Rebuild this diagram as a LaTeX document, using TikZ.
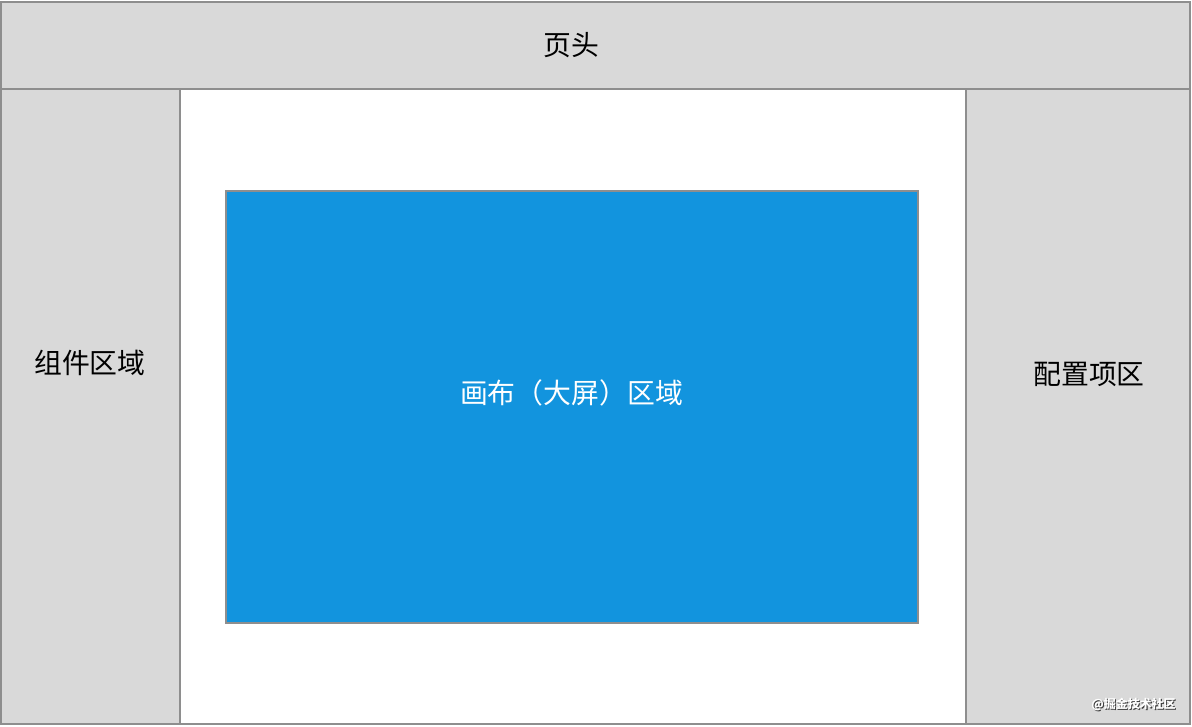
\documentclass[tikz,border=0pt]{standalone}
\usepackage{fontspec}
\setmainfont{Noto Sans CJK SC}
\usetikzlibrary{positioning}
\definecolor{panelgray}{HTML}{D9D9D9}
\definecolor{linegray}{HTML}{8E8E8E}
\definecolor{canvasblue}{HTML}{1294DE}
\tikzset{
  x=0.025cm, y=-0.025cm,
  panel/.style={draw=linegray, line width=1.3pt, fill=panelgray},
  canvas/.style={draw=linegray, line width=1pt, fill=canvasblue},
  label/.style={font=\fontsize{19.8pt}{22pt}\selectfont, inner sep=0pt},
  mark text/.style={font=\fontsize{8.5pt}{10pt}\selectfont\bfseries, inner sep=0pt}
  }
\begin{document}
\begin{tikzpicture}
    \useasboundingbox (0,0) rectangle (1192,726);
    \fill[white] (0,0) rectangle (1192,726);

    % the outer frame and its panels
    \draw[panel] (1,89) rectangle (180,724);
    \draw[panel] (966,89) rectangle (1190,724);
    \draw[panel] (1,2) rectangle (1190,89);
    \draw[linegray, line width=1.3pt] (180,724) -- (966,724);

    % the canvas in the middle
    \draw[canvas] (226,191) rectangle (918,623);

    \node [label] (head) at (571,45) {页头};
    \node [label] (parts) at (90,363) {组件区域};
    \node [label] (config) at (1089,374) {配置项区};
    \node [label, text=white] (screen) at (571.5,393) {画布（大屏）区域};

    % watermark, white over a dark shadow
    \node [mark text, text=black!75] (markshadow) at (1134.6,705.6) {@掘金技术社区};
    \node [mark text, text=white] (mark) at (1133.5,704.5) {@掘金技术社区};
\end{tikzpicture}
\end{document}
